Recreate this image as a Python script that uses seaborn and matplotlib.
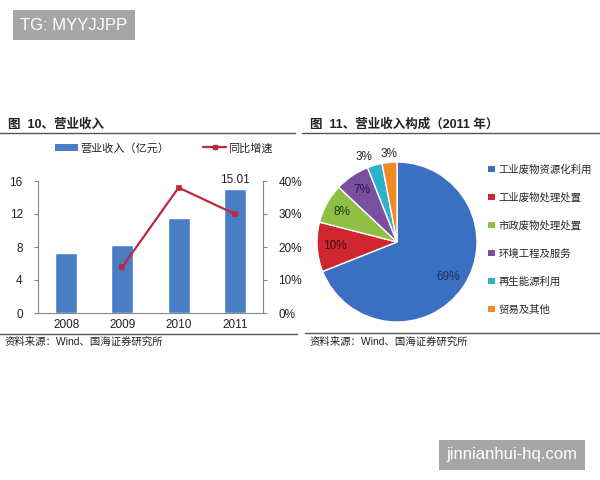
import matplotlib
matplotlib.use("Agg")
from matplotlib import pyplot as plt
from matplotlib.lines import Line2D
from matplotlib.patches import Patch
from matplotlib.ticker import PercentFormatter
import seaborn as sns
import pandas as pd
import numpy as np

# data
years = ["2008", "2009", "2010", "2011"]
revenue = [7.3, 8.3, 11.5, 15.01]
growth_years = ["2009", "2010", "2011"]
growth = [0.14, 0.38, 0.30]

segments = ["工业废物资源化利用", "工业废物处理处置", "市政废物处理处置",
            "环境工程及服务", "再生能源利用", "贸易及其他"]
shares = [69, 10, 8, 7, 3, 3]
seg_colors = ["#3b6fc2", "#d0262f", "#8fbf45", "#7b4fa0", "#2fb0cc", "#f08a24"]
label_colors = ["#1f3360", "#3a1010", "#1e3a10", "#2a1440", "#222222", "#222222"]

bar_color = "#4a7ec4"
line_color = "#c0283a"

sns.set_style("white")
plt.rcParams["font.family"] = ["Liberation Sans", "Noto Sans CJK SC", "DejaVu Sans"]

W, H = 600, 480
fig = plt.figure(figsize=(6, 4.8), dpi=100)


def box(x0, y0, x1, y1):
    return [x0 / W, 1 - y1 / H, (x1 - x0) / W, (y1 - y0) / H]


def hline(x0, x1, y, color="#555555", lw=1.0):
    fig.add_artist(Line2D([x0 / W, x1 / W], [1 - y / H, 1 - y / H],
                          color=color, lw=lw, transform=fig.transFigure))


# ---- left chart: revenue bars + growth line
ax = fig.add_axes(box(38, 181, 263, 313))
df = pd.DataFrame({"year": years, "revenue": revenue})
sns.barplot(data=df, x="year", y="revenue", color=bar_color, width=0.39,
            saturation=1, ax=ax)
ax.set_ylim(0, 16)
ax.set_yticks([0, 4, 8, 12, 16])
ax.set_xlim(-0.5, 3.5)
ax.set_xlabel("")
ax.set_ylabel("")
ax.tick_params(axis="both", labelsize=8.5, colors="#222222", length=0, pad=4)
ax.tick_params(axis="y", length=3, color="#888888", direction="out", pad=8)
ax.set_xticks([-0.5, 0.5, 1.5, 2.5, 3.5], minor=True)
ax.tick_params(axis="x", which="minor", length=3, color="#888888")
for s in ["left", "bottom"]:
    ax.spines[s].set_color("#888888")
    ax.spines[s].set_linewidth(0.8)
ax.spines["top"].set_visible(False)
ax.spines["right"].set_visible(False)
ax.text(3, revenue[-1] + 0.4, "15.01", ha="center", va="bottom", fontsize=8.5,
        color="#222222")

ax2 = ax.twinx()
gdf = pd.DataFrame({"year": growth_years, "growth": growth})
sns.pointplot(data=gdf, x="year", y="growth", order=years, color=line_color,
              markers="s", markersize=3, linewidth=1.6, ax=ax2)
ax2.set_xlim(-0.5, 3.5)
ax2.set_ylim(0, 0.4)
ax2.set_yticks([0, 0.1, 0.2, 0.3, 0.4])
ax2.yaxis.set_major_formatter(PercentFormatter(1.0, decimals=0))
ax2.set_ylabel("")
ax2.set_xlabel("")
ax2.tick_params(axis="y", labelsize=8.5, colors="#222222", length=3,
                direction="out", pad=8)
ax2.tick_params(axis="y", color="#888888")
ax2.spines["right"].set_color("#888888")
ax2.spines["right"].set_linewidth(0.8)
for s in ["top", "left", "bottom"]:
    ax2.spines[s].set_visible(False)

handles = [Patch(facecolor=bar_color, edgecolor="none"),
           Line2D([], [], color=line_color, lw=1.6, marker="s", markersize=3)]
fig.legend(handles, ["营业收入（亿元）", "同比增速"], loc="center left",
           bbox_to_anchor=(45 / W, 1 - 148 / H), ncol=2, frameon=False,
           fontsize=8, handlelength=2.1, handleheight=0.7, columnspacing=3.0,
           handletextpad=0.2)

fig.text(8 / W, 1 - 125 / H, "图  10、营业收入", fontsize=9, weight="bold",
         va="center", ha="left", color="#222222")
hline(0, 295, 133)
hline(0, 297, 334)
fig.text(5 / W, 1 - 342 / H, "资料来源：Wind、国海证券研究所", fontsize=7.5,
         va="center", ha="left", color="#222222")

# ---- right chart: revenue structure pie
axp = fig.add_axes(box(317, 162, 477, 322))
wedges, _ = axp.pie(shares, colors=seg_colors, startangle=90, counterclock=False,
                    wedgeprops=dict(edgecolor="white", linewidth=1.0))
axp.set_xlim(-1, 1)
axp.set_ylim(-1, 1)
axp.set_aspect("equal")
for w, v, c in zip(wedges, shares, label_colors):
    ang = np.deg2rad((w.theta1 + w.theta2) / 2)
    ha = "center"
    r = 0.78
    if v < 5:
        r = 1.1
        ha = "right" if np.cos(ang) < -0.2 else "center"
    axp.text(r * np.cos(ang), r * np.sin(ang), f"{v}%", ha=ha,
             va="center", fontsize=8.5, color=c)

pie_handles = [Patch(facecolor=c, edgecolor="none") for c in seg_colors]
fig.legend(pie_handles, segments, loc="upper left",
           bbox_to_anchor=(479 / W, 1 - 155 / H), frameon=False, fontsize=7.5,
           handlelength=0.6, handleheight=0.6, labelspacing=1.7,
           handletextpad=0.35)

fig.text(310 / W, 1 - 125 / H, "图  11、营业收入构成（2011 年）", fontsize=9,
         weight="bold", va="center", ha="left", color="#222222")
hline(302, 600, 133)
hline(305, 600, 333)
fig.text(310 / W, 1 - 342 / H, "资料来源：Wind、国海证券研究所", fontsize=7.5,
         va="center", ha="left", color="#222222")

# ---- watermarks
fig.text(20 / W, 1 - 25 / H, "TG: MYYJJPP", fontsize=12, color="white",
         va="center", ha="left",
         bbox=dict(boxstyle="square,pad=0.45", facecolor="#a6a6a6",
                   edgecolor="none"))
fig.text(446 / W, 1 - 455 / H, "jinnianhui-hq.com", fontsize=12,
         color="white", va="center", ha="left",
         bbox=dict(boxstyle="square,pad=0.45", facecolor="#a6a6a6",
                   edgecolor="none"))

fig.savefig("out.png", dpi=100, facecolor="white")
